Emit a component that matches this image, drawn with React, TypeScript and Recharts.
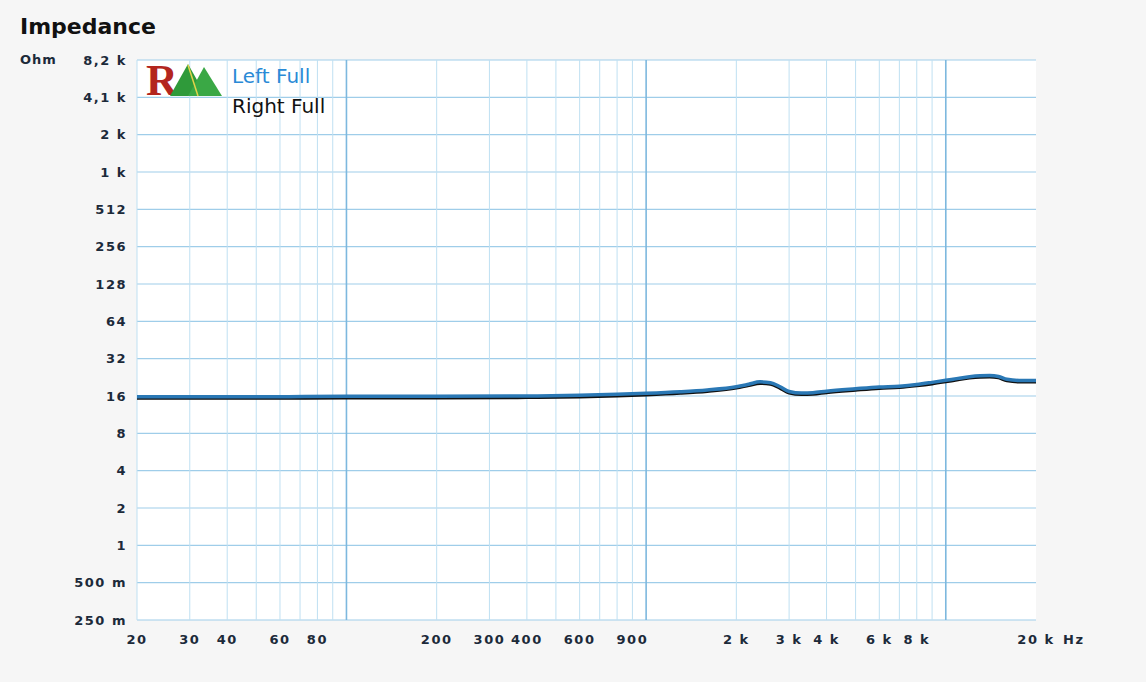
import { LineChart, Line, XAxis, YAxis, CartesianGrid, ReferenceLine } from 'recharts';

const freqs = [20, 30, 40, 60, 100, 200, 400, 600, 800, 1000, 1300, 1600, 2000, 2200, 2400, 2600, 2800, 3000, 3300, 3600, 4000, 5000, 6000, 7000, 8000, 9000, 10000, 11000, 12000, 13000, 14000, 15000, 16000, 18000, 20000];
const leftFull = [15.8, 15.8, 15.8, 15.8, 15.9, 15.9, 16.0, 16.2, 16.5, 16.8, 17.3, 17.9, 19.0, 19.9, 20.8, 20.5, 19.0, 17.4, 16.9, 17.0, 17.5, 18.3, 18.9, 19.2, 19.8, 20.6, 21.4, 22.2, 22.9, 23.3, 23.4, 23.0, 21.8, 21.3, 21.3];
const rightFull = [15.4, 15.4, 15.4, 15.4, 15.5, 15.5, 15.6, 15.8, 16.1, 16.4, 16.9, 17.5, 18.6, 19.5, 20.3, 20.0, 18.5, 17.0, 16.5, 16.6, 17.1, 17.9, 18.5, 18.8, 19.4, 20.1, 20.9, 21.7, 22.4, 22.8, 22.9, 22.5, 21.3, 20.8, 20.8];

const xTicks = [20, 30, 40, 60, 80, 200, 300, 400, 600, 900, 2000, 3000, 4000, 6000, 8000, 20000];
const yTicks = [0.25, 0.5, 1, 2, 4, 8, 16, 32, 64, 128, 256, 512, 1024, 2048, 4096, 8192];
const yTickLabels = ['250 m', '500 m', '1', '2', '4', '8', '16', '32', '64', '128', '256', '512', '1 k', '2 k', '4,1 k', '8,2 k'];
const gridFreqs = [20, 30, 40, 50, 60, 70, 80, 90, 100, 200, 300, 400, 500, 600, 700, 800, 900, 1000, 2000, 3000, 4000, 5000, 6000, 7000, 8000, 9000, 10000];
const decades = [100, 1000, 10000];

const data = freqs.map((f, i) => ({ f, left: leftFull[i], right: rightFull[i] }));

const font = '"DejaVu Sans", Verdana, sans-serif';
const ink = '#1c2a3a';
const tickStyle = { fontSize: 13, fontWeight: 700, fill: ink, fontFamily: font, letterSpacing: 1.5 };

const fmtX = (v: number) => (v >= 1000 ? v / 1000 + ' k' : String(v));
const fmtY = (v: number) => yTickLabels[yTicks.indexOf(v)] ?? String(v);

function Logo() {
    return (
        <svg width={80} height={44} style={{ overflow: 'visible' }}>
            <text x={0} y={37} fontFamily="'Liberation Serif', serif" fontWeight={700} fontSize={44} fill="#b3261e">R</text>
            <polygon points="24,38 42,6 60,38" fill="#2f9a3a" />
            <polygon points="42,38 58,9 76,38" fill="#3aa845" />
            <line x1={42} y1={7} x2={52} y2={38} stroke="#e2d34a" strokeWidth={1.5} />
        </svg>
    );
}

export default function App() {
    return (
        <div style={{ position: 'fixed', left: 0, top: 0, width: 1146, height: 682, background: '#f6f6f6', overflow: 'hidden' }}>
            <div style={{ position: 'absolute', left: 20, top: 14, fontFamily: font, fontWeight: 700, fontSize: 22, color: '#111' }}>Impedance</div>
            <div style={{ position: 'absolute', left: 20, top: 52, fontFamily: font, fontWeight: 700, fontSize: 13, color: ink, letterSpacing: 1 }}>Ohm</div>
            <LineChart width={1146} height={682} data={data} margin={{ top: 60, right: 110, bottom: 32, left: 0 }}>
                <CartesianGrid fill="#ffffff" vertical={false} stroke="#9fcde9" strokeWidth={1.2} />
                {gridFreqs.map(g => (
                    <ReferenceLine
                        key={g}
                        x={g}
                        stroke={decades.includes(g) ? '#7db8de' : '#bfe0f2'}
                        strokeWidth={decades.includes(g) ? 1.6 : 1}
                    />
                ))}
                <XAxis
                    dataKey="f"
                    type="number"
                    scale="log"
                    domain={[20, 20000]}
                    ticks={xTicks}
                    tickFormatter={fmtX}
                    tick={tickStyle}
                    axisLine={false}
                    tickLine={false}
                    tickSize={0}
                    tickMargin={15}
                    interval={0}
                    height={30}
                    allowDataOverflow
                />
                <YAxis
                    type="number"
                    scale="log"
                    domain={[0.25, 8192]}
                    ticks={yTicks}
                    tickFormatter={fmtY}
                    tick={tickStyle}
                    width={137}
                    axisLine={false}
                    tickLine={false}
                    tickSize={0}
                    tickMargin={10}
                    interval={0}
                    allowDataOverflow
                />
                <Line type="monotone" dataKey="right" stroke="#111111" strokeWidth={3.5} dot={false} isAnimationActive={false} />
                <Line type="monotone" dataKey="left" stroke="#2a78b5" strokeWidth={3.5} dot={false} isAnimationActive={false} />
            </LineChart>
            <div style={{ position: 'absolute', left: 1063, top: 632, fontFamily: font, fontWeight: 700, fontSize: 13, color: ink, letterSpacing: 1.5 }}>Hz</div>
            <div style={{ position: 'absolute', left: 146, top: 58 }}>
                <Logo />
            </div>
            <div style={{ position: 'absolute', left: 232, top: 61, fontFamily: font, fontSize: 20, lineHeight: '30px' }}>
                <div style={{ color: '#2a8ad6' }}>Left Full</div>
                <div style={{ color: '#111' }}>Right Full</div>
            </div>
        </div>
    );
}
